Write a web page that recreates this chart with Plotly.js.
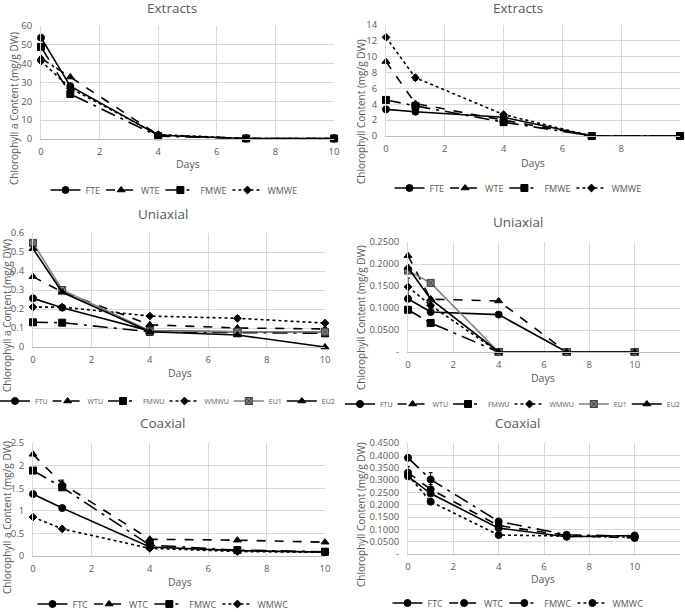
<!DOCTYPE html>
<html><head><meta charset="utf-8">
<script src="https://cdn.plot.ly/plotly-3.0.1.min.js"></script>
<style>html,body{margin:0;padding:0;background:#fff}#chart{width:685px;height:612px}</style>
</head><body><div id="chart"></div>
<script>
// ---------- DATA ----------
const days = [0, 1, 4, 7, 10];

// Panel 1: Extracts (Chlorophyll a)
const extA_FTE  = [53.8, 28.1, 2.0, 0.3, 0.3];
const extA_WTE  = [42.9, 32.9, 2.1, 0.3, 0.3];
const extA_FMWE = [48.9, 23.9, 1.5, 0.3, 0.3];
const extA_WMWE = [41.4, 27.0, 2.3, 0.3, 0.3];

// Panel 2: Extracts (Chlorophyll)
const ext_FTE  = [3.36, 3.06, 2.36, 0, 0];
const ext_WTE  = [9.4, 4.1, 2.0, 0, 0];
const ext_FMWE = [4.55, 3.8, 1.75, 0, 0];
const ext_WMWE = [12.45, 7.35, 2.7, 0, 0];
const ext_WMWE_err = [0, 0.35, 0.15, 0, 0];

// Panel 3: Uniaxial (Chlorophyll a)
const uniA_FTU  = [0.256, 0.207, 0.085, 0.08, 0.08];
const uniA_WTU  = [0.37, 0.29, 0.117, 0.10, 0.095];
const uniA_FMWU = [0.13, 0.128, 0.08, 0.075, 0.072];
const uniA_WMWU = [0.21, 0.21, 0.163, 0.151, 0.126];
const uniA_WMWU_err = [0, 0, 0, 0.012, 0];
const uniA_EU1  = [0.548, 0.30, 0.085, 0.08, 0.08];
const uniA_EU2  = [0.518, 0.288, 0.08, 0.063, 0];

// Panel 4: Uniaxial (Chlorophyll)
const uni_FTU  = [0.121, 0.091, 0.085, 0, 0];
const uni_WTU  = [0.219, 0.12, 0.116, 0, 0];
const uni_FMWU = [0.096, 0.066, 0, 0, 0];
const uni_WMWU = [0.148, 0.106, 0, 0, 0];
const uni_WMWU_err = [0.02, 0.008, 0, 0, 0];
const uni_EU1  = [0.185, 0.157, 0, 0, 0];
const uni_EU2  = [0.192, 0.12, 0, 0, 0];

// Panel 5: Coaxial (Chlorophyll a)
const coA_FTC  = [1.37, 1.06, 0.20, 0.12, 0.085];
const coA_WTC  = [2.25, 1.60, 0.37, 0.35, 0.305];
const coA_WTC_err = [0, 0.08, 0.04, 0, 0];
const coA_FMWC = [1.89, 1.52, 0.24, 0.13, 0.095];
const coA_WMWC = [0.86, 0.60, 0.17, 0.10, 0.08];

// Panel 6: Coaxial (Chlorophyll)
const co_FTC  = [0.315, 0.245, 0.105, 0.07, 0.075];
const co_WTC  = [0.33, 0.262, 0.115, 0.075, 0.065];
const co_WTC_err = [0.025, 0.02, 0, 0, 0];
const co_FMWC = [0.39, 0.302, 0.132, 0.078, 0.072];
const co_FMWC_err = [0, 0.028, 0, 0, 0];
const co_WMWC = [0.32, 0.212, 0.077, 0.072, 0.068];

// Tick labels
const xTicks10 = [0, 2, 4, 6, 8, 10];
const xTicks12 = [0, 2, 4, 6, 8, 10, 12];
const y1Ticks = [0, 10, 20, 30, 40, 50, 60];
const y2Ticks = [0, 2, 4, 6, 8, 10, 12, 14];
const y3Ticks = [0, 0.1, 0.2, 0.3, 0.4, 0.5, 0.6];
const y3Text  = ['0', '0.1', '0.2', '0.3', '0.4', '0.5', '0.6'];
const y4Ticks = [0, 0.05, 0.1, 0.15, 0.2, 0.25];
const y4Text  = ['-', '0.0500', '0.1000', '0.1500', '0.2000', '0.2500'];
const y5Ticks = [0, 0.5, 1, 1.5, 2, 2.5];
const y5Text  = ['0', '0.5', '1', '1.5', '2', '2.5'];
const y6Ticks = [0, 0.05, 0.1, 0.15, 0.2, 0.25, 0.3, 0.35, 0.4, 0.45];
const y6Text  = ['-', '0.0500', '0.1000', '0.1500', '0.2000', '0.2500', '0.3000', '0.3500', '0.4000', '0.4500'];

// ---------- STYLES ----------
const STY = {
  ft:   {dash: 'solid',       symbol: 'circle',      color: '#000', size: 7},
  wt:   {dash: 'dash',        symbol: 'triangle-up', color: '#000', size: 7},
  fmw:  {dash: 'longdashdot', symbol: 'square',      color: '#000', size: 7},
  wmw:  {dash: 'dot',         symbol: 'diamond',     color: '#000', size: 6},
  eu1:  {dash: 'solid',       symbol: 'square-x',    color: '#808080', size: 7},
  eu2:  {dash: 'solid',       symbol: 'triangle-up', color: '#000', size: 7},
  wtc:  {dash: 'dash',        symbol: 'circle',      color: '#000', size: 7},
  fmwc: {dash: 'longdashdot', symbol: 'circle',      color: '#000', size: 7},
  wmwc: {dash: 'dot',         symbol: 'circle',      color: '#000', size: 7}
};

function tr(name, y, st, n, err) {
  const s = STY[st];
  const t = {
    x: days, y: y, name: name, type: 'scatter', mode: 'lines+markers',
    xaxis: n === 1 ? 'x' : 'x' + n, yaxis: n === 1 ? 'y' : 'y' + n,
    legend: n === 1 ? 'legend' : 'legend' + n,
    line: {color: s.color, width: 1.6, dash: s.dash},
    marker: {symbol: s.symbol, size: s.size, color: s.color,
             line: {color: s.symbol === 'square-x' ? '#404040' : s.color, width: 1}},
    cliponaxis: false
  };
  if (err) t.error_y = {type: 'data', array: err, visible: true, color: s.color, thickness: 1, width: 2};
  return t;
}

const data = [
  tr('FTE', extA_FTE, 'ft', 1), tr('WTE', extA_WTE, 'wt', 1),
  tr('FMWE', extA_FMWE, 'fmw', 1), tr('WMWE', extA_WMWE, 'wmw', 1),

  tr('FTE', ext_FTE, 'ft', 2), tr('WTE', ext_WTE, 'wt', 2),
  tr('FMWE', ext_FMWE, 'fmw', 2), tr('WMWE', ext_WMWE, 'wmw', 2, ext_WMWE_err),

  tr('FTU', uniA_FTU, 'ft', 3), tr('WTU', uniA_WTU, 'wt', 3),
  tr('FMWU', uniA_FMWU, 'fmw', 3), tr('WMWU', uniA_WMWU, 'wmw', 3, uniA_WMWU_err),
  tr('EU1', uniA_EU1, 'eu1', 3), tr('EU2', uniA_EU2, 'eu2', 3),

  tr('FTU', uni_FTU, 'ft', 4), tr('WTU', uni_WTU, 'wt', 4),
  tr('FMWU', uni_FMWU, 'fmw', 4), tr('WMWU', uni_WMWU, 'wmw', 4, uni_WMWU_err),
  tr('EU1', uni_EU1, 'eu1', 4), tr('EU2', uni_EU2, 'eu2', 4),

  tr('FTC', coA_FTC, 'ft', 5), tr('WTC', coA_WTC, 'wt', 5, coA_WTC_err),
  tr('FMWC', coA_FMWC, 'fmw', 5), tr('WMWC', coA_WMWC, 'wmw', 5),

  tr('FTC', co_FTC, 'ft', 6), tr('WTC', co_WTC, 'wtc', 6, co_WTC_err),
  tr('FMWC', co_FMWC, 'fmwc', 6, co_FMWC_err), tr('WMWC', co_WMWC, 'wmwc', 6)
];

// ---------- LAYOUT ----------
const W = 685, H = 612;
const px = v => v / W;
const py = v => 1 - v / H;
const GRID = '#d9d9d9', TXT = '#595959';
const FONT = 'Open Sans, DejaVu Sans, sans-serif';

function xax(l, r, anchor, max, ticks) {
  return {domain: [px(l), px(r)], anchor: anchor, range: [0, max], tickvals: ticks,
    showgrid: true, gridcolor: GRID, gridwidth: 1, zeroline: false,
    showline: true, linecolor: '#bfbfbf', mirror: false, ticks: '', ticklabelstandoff: 4,
    tickfont: {size: 9.5, color: TXT, family: FONT}, fixedrange: true, automargin: false};
}
function yax(t, b, anchor, ticks, text) {
  const a = {domain: [py(b), py(t)], anchor: anchor, range: [0, ticks[ticks.length - 1]], tickvals: ticks,
    showgrid: true, gridcolor: GRID, gridwidth: 1, zeroline: false,
    showline: true, linecolor: GRID, mirror: false, ticks: '', ticklabelstandoff: 6,
    tickfont: {size: 9.5, color: TXT, family: FONT}, fixedrange: true, automargin: false};
  if (text) a.ticktext = text;
  return a;
}
function leg(x, cy, anchor, size, ind) {
  return {orientation: 'h', x: px(x), y: py(cy), xanchor: anchor, yanchor: 'middle',
    font: {size: size, color: TXT, family: FONT}, bgcolor: 'rgba(0,0,0,0)',
    itemwidth: 30, indentation: ind, tracegroupgap: 0, itemclick: false, itemdoubleclick: false};
}
function ann(text, x, y, size, angle) {
  return {text: text, x: px(x), y: py(y), xref: 'paper', yref: 'paper',
    xanchor: 'center', yanchor: 'middle', showarrow: false, textangle: angle || 0,
    font: {size: size, color: TXT, family: FONT}};
}
const ya = 'Chlorophyll a Content (mg/g DW)';
const yc = 'Chlorophyll Content (mg/g DW)';

const layout = {
  width: W, height: H, margin: {l: 0, r: 0, t: 0, b: 0, pad: 0, autoexpand: false},
  paper_bgcolor: '#fff', plot_bgcolor: '#fff', showlegend: true,
  font: {family: FONT, color: TXT},
  xaxis:  xax(41, 334, 'y', 10, xTicks10),
  yaxis:  yax(26, 139, 'x', y1Ticks),
  xaxis2: xax(386, 680, 'y2', 10, xTicks10),
  yaxis2: yax(25, 136, 'x2', y2Ticks),
  xaxis3: xax(33, 325, 'y3', 10, xTicks10),
  yaxis3: yax(233, 347, 'x3', y3Ticks, y3Text),
  xaxis4: xax(408, 680, 'y4', 12, xTicks12),
  yaxis4: yax(242, 352, 'x4', y4Ticks, y4Text),
  xaxis5: xax(33, 325, 'y5', 10, xTicks10),
  yaxis5: yax(443, 556, 'x5', y5Ticks, y5Text),
  xaxis6: xax(408, 680, 'y6', 12, xTicks12),
  yaxis6: yax(443, 554, 'x6', y6Ticks, y6Text),
  legend:  leg(176, 190, 'center', 9, -4),
  legend2: leg(520, 188, 'center', 9, -4),
  legend3: leg(0, 401, 'left', 7, -5),
  legend4: leg(685, 404, 'right', 7, -5),
  legend5: leg(165, 604, 'center', 9, -4),
  legend6: leg(520, 603, 'center', 9, -4),
  annotations: [
    ann('Extracts', 172, 8, 13.5), ann('Extracts', 518, 8, 13.5),
    ann('Uniaxial', 163, 214, 13.5), ann('Uniaxial', 518, 222, 13.5),
    ann('Coaxial', 163, 423, 13.5), ann('Coaxial', 518, 423, 13.5),
    ann('Days', 188, 164, 10.5), ann('Days', 533, 163, 10.5),
    ann('Days', 180, 373, 10.5), ann('Days', 543, 378, 10.5),
    ann('Days', 180, 582, 10.5), ann('Days', 543, 579, 10.5),
    ann(ya, 14, 109, 10, -90), ann(yc, 361, 111, 10, -90),
    ann(ya, 7, 316, 10, -90), ann(yc, 361, 317, 10, -90),
    ann(ya, 7, 518, 10, -90), ann(yc, 361, 514, 10, -90)
  ]
};

Plotly.newPlot('chart', data, layout, {displayModeBar: false, staticPlot: true});
</script>
</body></html>
